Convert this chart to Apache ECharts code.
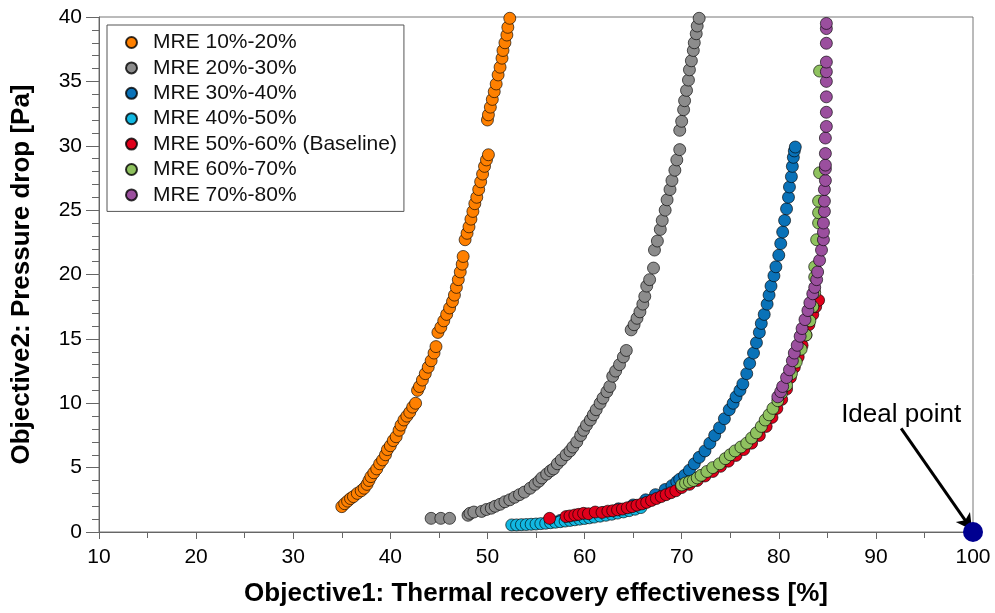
<!DOCTYPE html>
<html>
<head>
<meta charset="utf-8">
<script src="https://cdn.jsdelivr.net/npm/echarts@6/dist/echarts.min.js"></script>
<style>
  html, body { margin: 0; padding: 0; background: #fff; }
  #main { width: 995px; height: 613px; }
</style>
</head>
<body>
<div id="main"></div>
<script>
// values, [effectiveness %, pressure drop Pa]
var mre10_20 = [
    [35.0,1.97],[35.3,2.2],[35.6,2.4],[35.9,2.6],[36.2,2.75],[36.6,3.0],[37.0,3.2],[37.3,3.4],
    [37.6,3.7],[37.8,4.0],[38.0,4.3],[38.3,4.6],[38.6,4.9],[38.9,5.3],[39.2,5.6],[39.5,6.0],
    [39.7,6.4],[40.0,6.7],[40.3,7.1],[40.6,7.4],[40.9,7.9],[41.1,8.3],[41.4,8.7],[41.7,9.0],
    [42.0,9.3],[42.3,9.7],[42.6,10.0],[42.8,11.0],[43.0,11.3],[43.3,11.8],[43.6,12.3],[43.9,12.8],
    [44.2,13.3],[44.5,13.9],[44.7,14.4],[44.9,15.5],[45.2,15.9],[45.5,16.4],[45.8,16.9],[46.1,17.4],
    [46.4,17.9],[46.6,18.4],[46.8,19.0],[47.0,19.6],[47.2,20.2],[47.4,20.8],[47.5,21.4],[47.7,22.7],
    [47.9,23.2],[48.1,23.7],[48.3,24.3],[48.5,24.9],[48.7,25.5],[48.9,26.0],[49.1,26.6],[49.3,27.2],
    [49.5,27.8],[49.7,28.4],[49.9,28.9],[50.1,29.3],
    [50.0,32.0],[50.1,32.4],[50.3,33.0],[50.5,33.6],[50.7,34.2],[50.9,34.8],[51.1,35.5],[51.3,36.1],
    [51.5,36.8],[51.6,37.4],[51.8,38.0],[52.0,38.6],[52.1,39.2],[52.3,39.9]
];
var mre20_30 = [
    [44.2,1.06],[45.2,1.06],[46.1,1.06],[48.0,1.3],[48.2,1.45],[48.6,1.55],[49.4,1.6],[49.9,1.75],
    [50.4,1.85],[50.8,2.0],[51.3,2.15],[51.8,2.35],[52.3,2.5],[52.8,2.7],[53.3,2.9],[53.8,3.1],
    [54.4,3.4],[54.9,3.7],[55.3,3.95],[55.6,4.2],[56.1,4.5],[56.5,4.75],[56.8,4.9],[57.2,5.3],
    [57.6,5.6],[58.1,6.0],[58.5,6.3],[58.8,6.6],[59.2,7.0],[59.6,7.5],[59.9,7.9],[60.2,8.3],
    [60.6,8.7],[60.9,9.1],[61.2,9.5],[61.6,10.0],[61.9,10.4],[62.3,10.9],[62.6,11.3],[62.9,12.1],
    [63.2,12.5],[63.6,13.0],[64.0,13.6],[64.3,14.1],[64.8,15.7],[65.1,16.1],[65.4,16.6],[65.7,17.1],
    [66.0,17.7],[66.2,18.3],[66.4,19.1],[66.7,19.6],[67.1,20.5],[67.2,21.9],[67.5,22.6],[67.8,23.5],
    [68.0,24.2],[68.3,25.0],[68.5,25.8],[68.8,26.6],[69.0,27.3],[69.3,28.1],[69.5,28.9],[69.8,29.7],
    [69.8,31.2],[70.0,31.9],[70.2,32.8],[70.3,33.5],[70.5,34.3],[70.7,35.1],[70.8,35.9],[71.0,36.6],
    [71.2,37.4],[71.3,38.0],[71.5,38.7],[71.6,39.3],[71.8,39.9]
];
var mre30_40 = [
    [57.5,0.9],[59.0,1.1],[60.5,1.3],[62.0,1.5],[63.5,1.8],[65.0,2.1],[66.3,2.5],[67.3,2.9],
    [68.3,3.3],[69.0,3.6],[69.5,3.9],[69.8,4.1],[70.3,4.4],[70.8,4.8],[71.3,5.3],[71.8,5.8],
    [72.4,6.3],[72.9,6.9],[73.4,7.5],[73.9,8.1],[74.4,8.8],[74.9,9.5],[75.3,10.0],[75.6,10.5],
    [76.0,11.0],[76.3,11.5],[76.7,12.3],[77.0,13.1],[77.4,13.9],[77.7,14.7],[78.0,15.5],[78.2,16.2],
    [78.5,16.9],[78.8,17.7],[79.0,18.4],[79.2,19.1],[79.5,19.9],[79.7,20.6],[80.0,21.5],[80.2,22.4],
    [80.4,23.3],[80.6,24.2],[80.8,25.1],[81.0,26.0],[81.1,26.8],[81.3,27.6],[81.4,28.4],[81.5,29.1],
    [81.6,29.6],[81.7,29.9]
];
var mre40_50 = [
    [52.5,0.55],[53.0,0.55],[53.5,0.57],[54.0,0.58],[54.5,0.6],[55.0,0.62],[55.5,0.65],[56.0,0.68],
    [56.5,0.72],[57.0,0.76],[57.5,0.8],[58.0,0.85],[58.5,0.9],[59.0,0.95],[59.5,1.0],[60.0,1.05],
    [60.5,1.1],[61.0,1.16],[61.6,1.23],[62.2,1.3],[62.8,1.38],[63.4,1.47],[64.0,1.56],[64.6,1.66],
    [65.2,1.77],[65.8,1.9]
];
var mre50_60 = [
    [56.4,1.06],[58.1,1.2],[58.5,1.25],[59.0,1.32],[59.4,1.37],[59.9,1.45],[60.4,1.42],[61.1,1.55],
    [61.8,1.52],[62.4,1.62],[62.9,1.65],[63.4,1.72],[63.9,1.78],[64.4,1.88],[64.9,1.97],[65.4,2.08],
    [65.9,2.18],[66.4,2.3],[66.9,2.45],[67.4,2.6],[67.9,2.75],[68.4,2.9],[68.9,3.05],[69.4,3.2],
    [70.0,3.45],[70.8,3.7],[71.6,4.0],[72.4,4.35],[73.2,4.7],[74.0,5.1],[74.8,5.5],[75.6,5.95],
    [76.4,6.4],[77.2,6.9],[78.0,7.5],[78.7,8.2],[79.3,8.9],[79.8,9.6],[80.3,10.3],[80.8,11.1],
    [81.2,12.0],[81.6,12.8],[82.0,13.6],[82.4,14.5],[82.8,15.3],[83.1,16.1],[83.5,16.9],[83.8,17.5],
    [84.1,18.0]
];
var mre60_70 = [
    [70.0,3.65],[70.4,3.8],[70.8,3.9],[71.2,4.0],[71.6,4.2],[72.0,4.4],[72.6,4.7],[73.2,5.0],
    [73.9,5.3],[74.5,5.7],[75.0,6.0],[75.5,6.3],[76.1,6.6],[76.7,6.9],[77.2,7.3],[77.7,7.7],
    [78.2,8.2],[78.6,8.7],[79.0,9.1],[79.4,9.6],[79.9,10.2],[80.3,10.8],[80.8,11.4],[81.3,12.3],
    [81.8,13.2],[82.3,14.2],[82.8,15.3],[83.2,16.4],[83.5,17.5],[83.7,18.6],[83.7,19.8],[83.7,20.6],
    [83.9,22.7],[84.1,24.0],[84.1,24.8],[84.1,25.7],[84.2,27.9],[84.2,35.8]
];
var mre70_80 = [
    [79.9,10.5],[80.2,10.9],[80.4,11.3],[80.8,12.0],[81.1,12.6],[81.4,13.3],[81.6,13.9],[81.9,14.5],
    [82.2,15.2],[82.4,15.8],[82.7,16.5],[83.0,17.2],[83.2,17.8],[83.5,18.5],[83.7,19.0],[83.9,19.6],
    [84.0,20.2],[84.2,21.1],[84.4,21.9],[84.6,22.7],[84.6,23.3],[84.6,24.0],[84.7,24.9],[84.7,25.7],
    [84.7,26.6],[84.8,27.3],[84.8,28.2],[84.8,28.5],[84.8,29.4],[84.8,30.6],[84.9,31.5],[84.9,32.6],
    [84.9,33.8],[84.9,35.0],[84.9,35.75],[84.9,36.5],[84.9,37.96],[84.9,39.1],[84.9,39.5]
];
var idealPoint = [[100, 0]];

var seriesNames = ['MRE 10%-20%', 'MRE 20%-30%', 'MRE 30%-40%', 'MRE 40%-50%',
    'MRE 50%-60% (Baseline)', 'MRE 60%-70%', 'MRE 70%-80%'];
var seriesData = [mre10_20, mre20_30, mre30_40, mre40_50, mre50_60, mre60_70, mre70_80];
var seriesColors = ['#ff8000', '#8c8c8c', '#0a72b8', '#12b8e2', '#e0001b', '#8fc25f', '#9b4f9e'];

var FONT = 'Liberation Sans, Arial, Helvetica, sans-serif';

var chart = echarts.init(document.getElementById('main'));

var series = seriesData.map(function (d, i) {
    return {
        name: seriesNames[i],
        type: 'scatter',
        data: d,
        symbol: 'circle',
        symbolSize: 12,
        itemStyle: {
            color: seriesColors[i],
            borderColor: 'rgba(0,0,0,0.8)',
            borderWidth: 0.8,
            opacity: 1
        }
    };
});

series.push({
    name: 'Ideal point',
    type: 'scatter',
    data: idealPoint,
    symbolSize: 20,
    clip: false,
    z: 5,
    itemStyle: { color: '#000090', opacity: 1 },
    markLine: {
        silent: true,
        symbol: ['none', 'arrow'],
        symbolSize: [13, 16],
        lineStyle: { color: '#000', width: 3, type: 'solid' },
        label: { show: false },
        data: [[{ coord: [92.6, 8.05] }, { coord: [99.9, 0.15] }]]
    },
    markPoint: {
        silent: true,
        symbol: 'rect',
        symbolSize: 1,
        itemStyle: { color: 'rgba(0,0,0,0)' },
        label: {
            show: true,
            position: 'inside',
            formatter: 'Ideal point',
            fontSize: 26,
            fontFamily: FONT,
            color: '#000'
        },
        data: [{ coord: [92.6, 9.1] }]
    }
});

var option = {
    animation: false,
    backgroundColor: '#fff',
    grid: {
        left: 99,
        right: 22,
        top: 17,
        bottom: 81,
        show: true,
        borderColor: '#777',
        borderWidth: 1
    },
    legend: {
        data: seriesNames,
        orient: 'vertical',
        left: 107,
        top: 25,
        padding: [7, 7, 6, 18],
        itemWidth: 11,
        itemHeight: 11,
        itemGap: 4.4,
        borderColor: '#555',
        borderWidth: 1,
        backgroundColor: '#fff',
        textStyle: { fontSize: 21, lineHeight: 21, fontFamily: FONT, color: '#111', padding: [0, 0, 0, 11] }
    },
    xAxis: {
        type: 'value',
        min: 10,
        max: 100,
        interval: 10,
        name: 'Objective1: Thermal recovery effectiveness [%]',
        nameLocation: 'middle',
        nameGap: 49,
        nameTextStyle: { fontSize: 26, fontWeight: 'bold', fontFamily: FONT, color: '#000' },
        axisLine: { lineStyle: { color: '#666', width: 1 } },
        axisTick: { show: true, length: 7, lineStyle: { color: '#666' } },
        minorTick: { show: true, splitNumber: 2, length: 6, lineStyle: { color: '#666' } },
        axisLabel: { fontSize: 21, fontFamily: FONT, color: '#000', margin: 15 },
        splitLine: { show: false }
    },
    yAxis: {
        type: 'value',
        min: 0,
        max: 40,
        interval: 5,
        name: 'Objective2: Pressure drop [Pa]',
        nameLocation: 'middle',
        nameGap: 64,
        nameTextStyle: { fontSize: 26, fontWeight: 'bold', fontFamily: FONT, color: '#000' },
        axisLine: { show: true, lineStyle: { color: '#666', width: 1 } },
        axisTick: { show: true, length: 13, lineStyle: { color: '#666' } },
        minorTick: { show: true, splitNumber: 5, length: 7, lineStyle: { color: '#666' } },
        axisLabel: { fontSize: 21, fontFamily: FONT, color: '#000', margin: 17 },
        splitLine: { show: false }
    },
    series: series
};

option && chart.setOption(option);
</script>
</body>
</html>
